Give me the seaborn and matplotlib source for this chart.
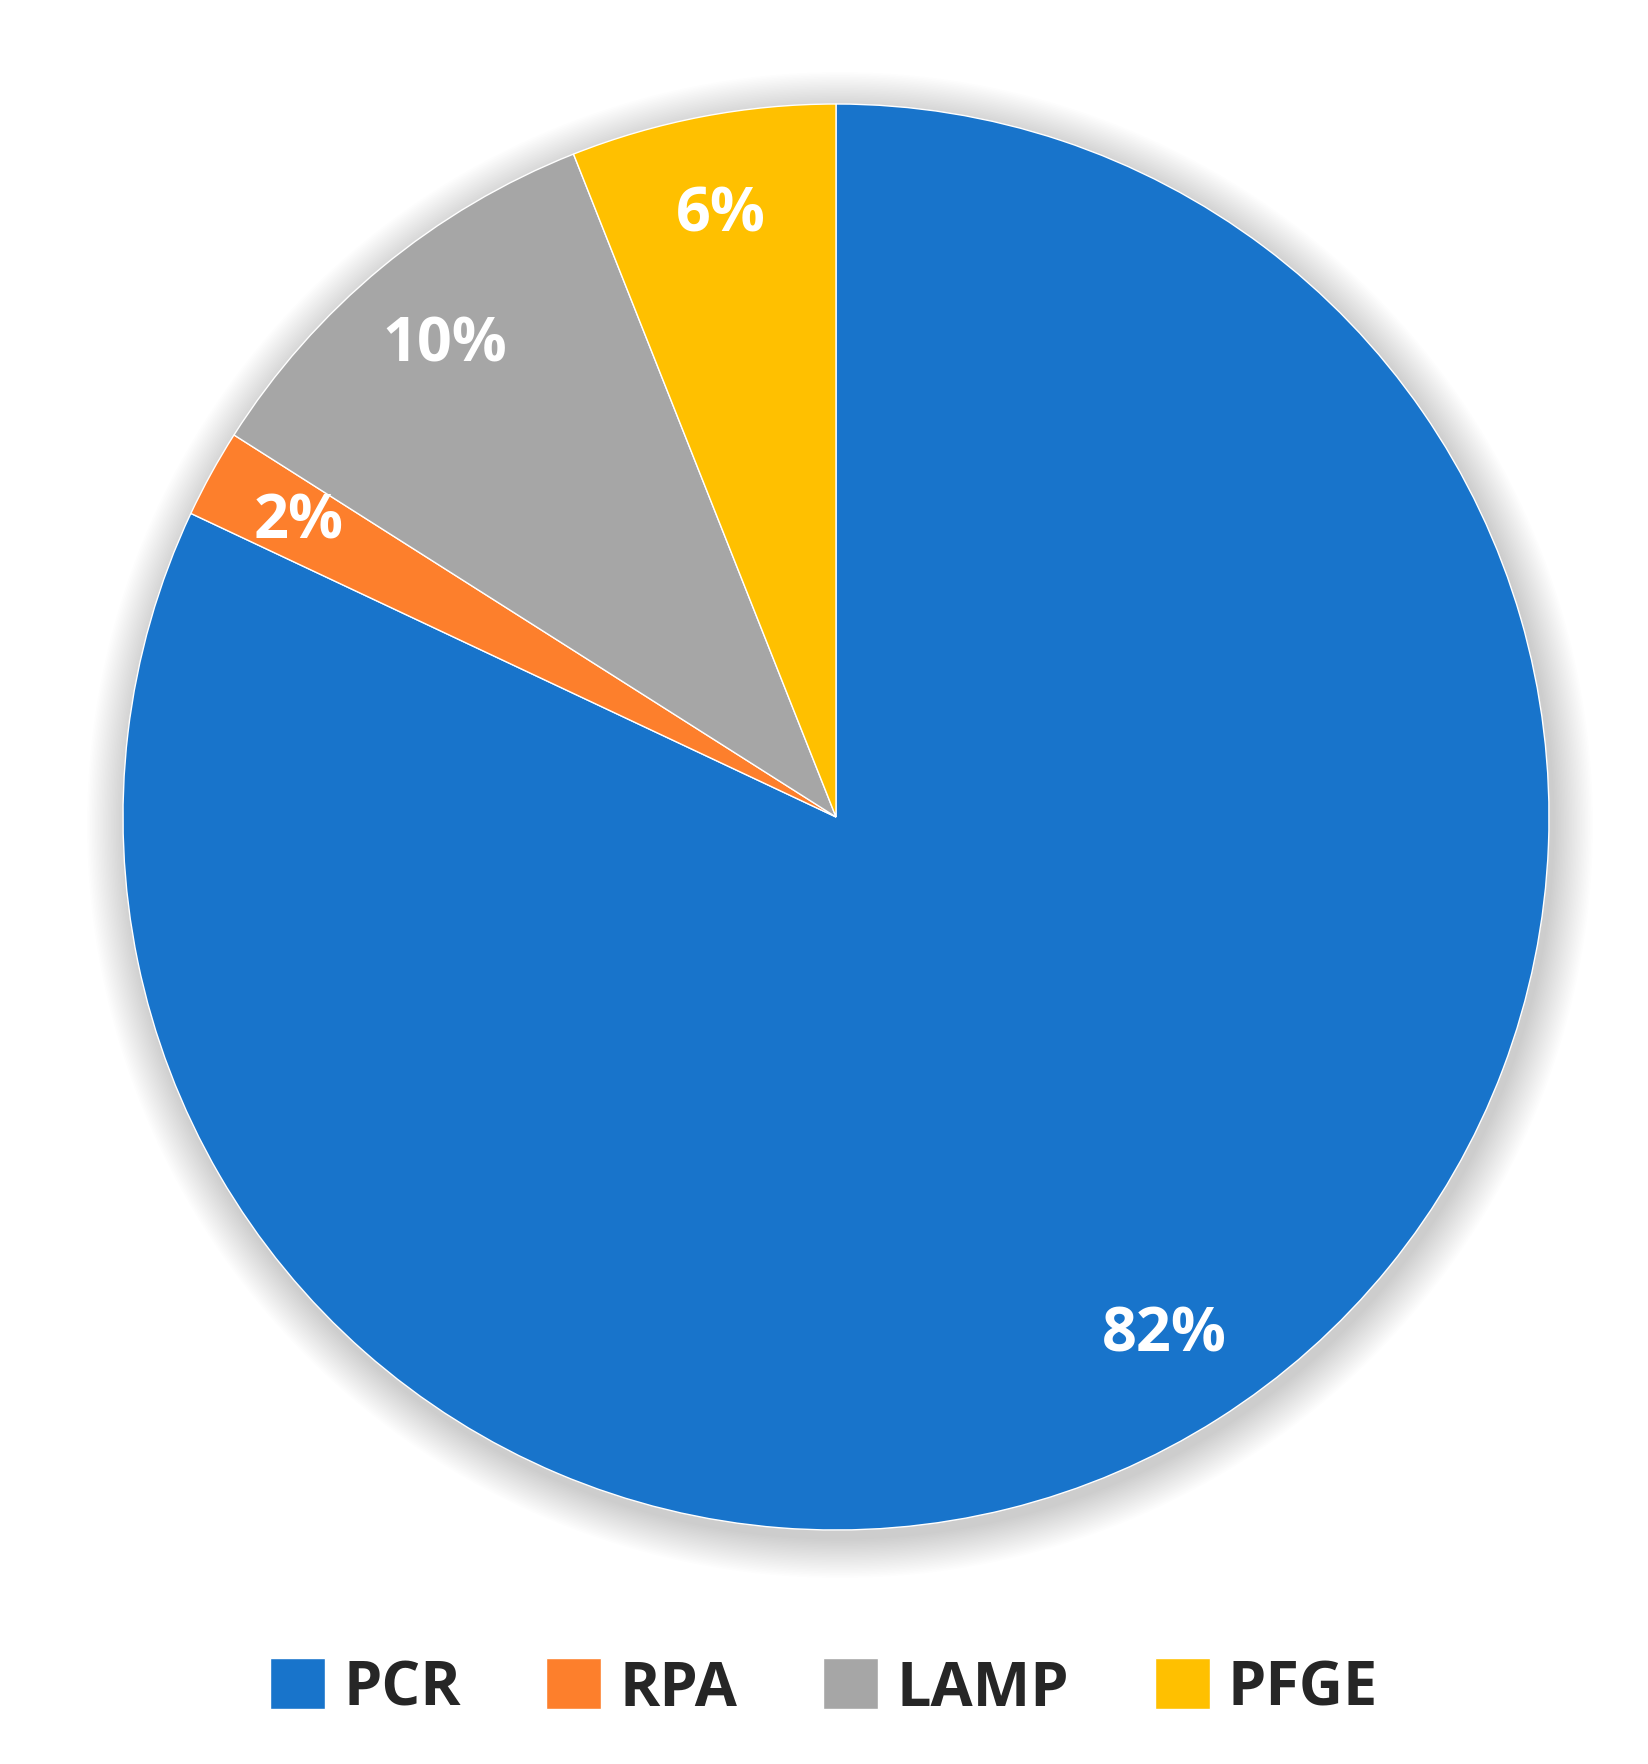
import matplotlib
matplotlib.use('Agg')
import matplotlib.pyplot as plt
import seaborn as sns
from matplotlib.patches import Circle

# data
methods = ["PCR", "RPA", "LAMP", "PFGE"]
shares = [82, 2, 10, 6]
colors = ["#1874CB", "#FD7F2C", "#A6A6A6", "#FFC000"]

sns.set_theme(style="white")
plt.rcParams['font.family'] = ['Open Sans', 'DejaVu Sans']

W, H = 1648, 1765
fig = plt.figure(figsize=(W / 100, H / 100), dpi=100)
ax = fig.add_axes([0, 0, 1, 1])
ax.set_xlim(0, W)
ax.set_ylim(0, H)
ax.set_aspect('equal')
ax.axis('off')

cx, cy, r = 836, 947, 713

# soft drop shadow behind the pie
for i in range(25):
    ax.add_patch(Circle((cx + 4, cy - 8), r + 40 - i * 1.6, color='black',
                        alpha=0.006, lw=0, zorder=0))

pal = sns.color_palette(colors)
wedges, texts, autotexts = ax.pie(
    shares, colors=pal, startangle=90, counterclock=False,
    center=(cx, cy), radius=r, autopct='%d%%', pctdistance=0.86,
    frame=True, textprops=dict(color='white', fontsize=44, fontweight='bold'))
ax.set_xlim(0, W)
ax.set_ylim(0, H)
ax.axis('off')

fig.legend(wedges, methods, loc='center', bbox_to_anchor=(0.5, 1 - 1690 / H),
           ncol=4, frameon=False, handlelength=0.9, handleheight=0.9,
           handletextpad=0.3, columnspacing=1.4,
           prop=dict(size=44, weight='bold', family=['Open Sans', 'DejaVu Sans']))

fig.savefig('out.png', dpi=100)
